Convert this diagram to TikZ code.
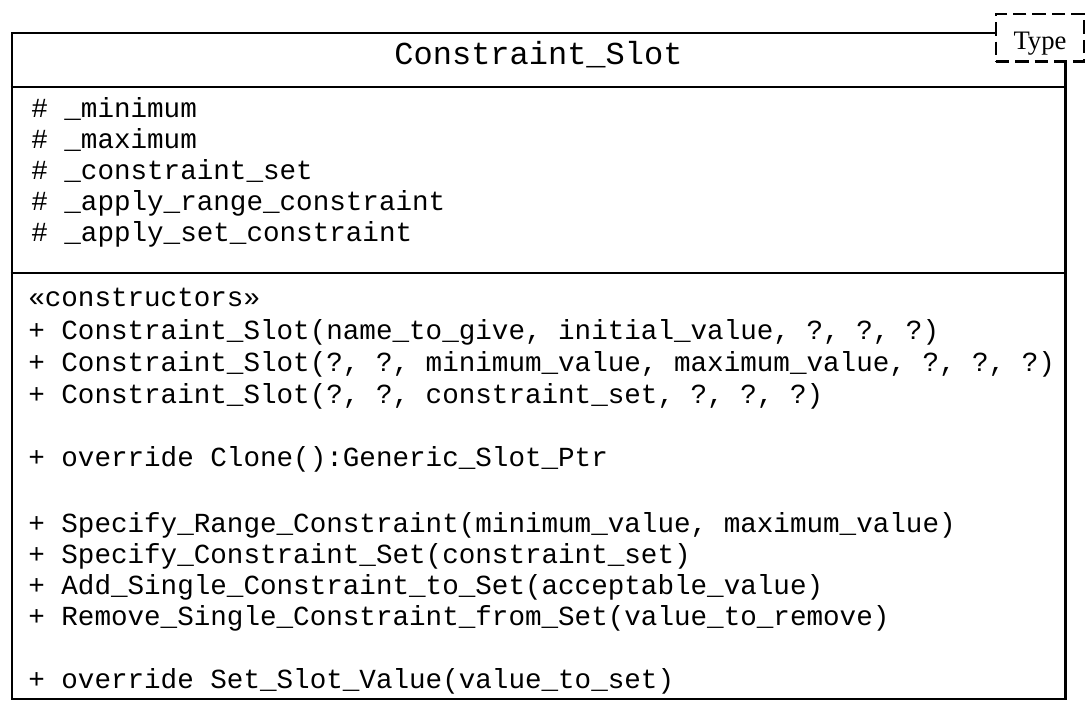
\documentclass[tikz,border=0pt]{standalone}
\usepackage{fontspec}
\setmainfont{Liberation Serif}
\setmonofont{Liberation Mono}

\tikzset{
  classbox/.style={draw, line width=1.8pt, inner sep=0pt,
    minimum width=790.2pt, minimum height=499.7pt},
  rule/.style={line width=1.8pt},
  typebox/.style={draw, line width=2.2pt, dash pattern=on 10pt off 4.5pt,
    fill=white, inner sep=0pt, minimum width=66pt, minimum height=35.8pt,
    text height=18.2pt, text depth=0pt, font=\fontsize{20}{24}\selectfont},
  classname/.style={anchor=base, inner sep=0pt,
    font=\ttfamily\fontsize{24}{28}\selectfont},
  member/.style={anchor=base west, inner sep=0pt,
    font=\ttfamily\fontsize{20.7}{24}\selectfont}
}

\begin{document}
\begin{tikzpicture}[x=0.75pt, y=-0.75pt]
  \useasboundingbox (0,0) rectangle (1086,713);
  % class outline and compartments
  \node[classbox] (slot) at (538.5,365.85) {};
  \coordinate (d1) at (0,87);
  \coordinate (d2) at (0,273);
  \draw[rule] (slot.west |- d1) -- (slot.east |- d1);
  \draw[rule] (slot.west |- d2) -- (slot.east |- d2);
  \node[typebox] (tparam) at (1040,37.85) {Type};
  \node[classname] (title) at (538.5,65) {Constraint\_Slot};
  % attributes
  \node[member] (a1) at (31,118) {\# \_minimum};
  \node[member] (a2) at (31,149) {\# \_maximum};
  \node[member] (a3) at (31,180) {\# \_constraint\_set};
  \node[member] (a4) at (31,211) {\# \_apply\_range\_constraint};
  \node[member] (a5) at (31,242) {\# \_apply\_set\_constraint};
  % operations
  \node[member] (m0) at (28,306.7) {«constructors»};
  \node[member] (m1) at (28,339.5) {+ Constraint\_Slot(name\_to\_give, initial\_value, ?, ?, ?)};
  \node[member] (m2) at (28,371.3) {+ Constraint\_Slot(?, ?, minimum\_value, maximum\_value, ?, ?, ?)};
  \node[member] (m3) at (28,403) {+ Constraint\_Slot(?, ?, constraint\_set, ?, ?, ?)};
  \node[member] (m5) at (28,466.5) {+ override Clone():Generic\_Slot\_Ptr};
  \node[member] (m7) at (28,532) {+ Specify\_Range\_Constraint(minimum\_value, maximum\_value)};
  \node[member] (m8) at (28,563.5) {+ Specify\_Constraint\_Set(constraint\_set)};
  \node[member] (m9) at (28,594.5) {+ Add\_Single\_Constraint\_to\_Set(acceptable\_value)};
  \node[member] (m10) at (28,625.5) {+ Remove\_Single\_Constraint\_from\_Set(value\_to\_remove)};
  \node[member] (m12) at (28,688.3) {+ override Set\_Slot\_Value(value\_to\_set)};
\end{tikzpicture}
\end{document}
